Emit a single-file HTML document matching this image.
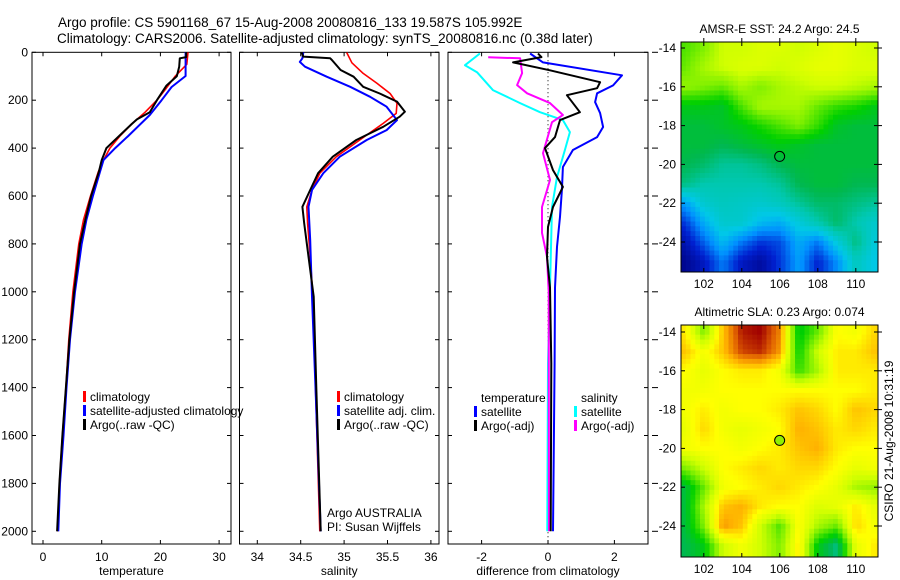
<!DOCTYPE html>
<html><head><meta charset="utf-8">
<style>
html,body{margin:0;padding:0;background:#fff;}
svg{display:block;font-family:"Liberation Sans",sans-serif;}
text{font-size:12px;fill:#000;}
</style></head>
<body>
<svg id="fig" width="900" height="580" viewBox="0 0 900 580" xmlns="http://www.w3.org/2000/svg">
<text x="58" y="27" style="font-size:13.5px">Argo profile: CS 5901168_67 15-Aug-2008 20080816_133 19.587S 105.992E</text>
<text x="57" y="43" style="font-size:13.5px">Climatology: CARS2006. Satellite-adjusted climatology: synTS_20080816.nc (0.38d later)</text>
<g id="g"></g>
</svg>
<script>
// ---- temperature panel data ----
const tClimDepth=[0,50,100,150,200,250,300,350,400,450,500,600,700,800,1000,1200,1400,1600,1800,2000];
const tClimVal=[24.7,24.5,22.5,21.0,19.4,17.4,15.1,13.1,11.4,10.3,9.4,8.1,6.9,6.1,5.1,4.4,3.9,3.3,2.8,2.5];
const tSatDepth=[0,99,145,200,262,350,400,450,500,600,700,800,1000,1200,1400,1600,1800,2000];
const tSatVal=[24.3,24.3,21.9,20.2,18.2,14.5,12.3,10.3,9.7,8.5,7.4,6.6,5.45,4.6,4.0,3.5,2.9,2.6];
const tArgoDepth=[0,20,25,60,100,140,200,250,280,300,400,450,500,600,700,800,1000,1200,1400,1600,1800,2000];
const tArgoVal=[24.4,24.4,23.3,23.2,22.8,21.0,19.4,18.2,16.0,15.1,10.8,10.0,9.5,8.2,7.2,6.3,5.3,4.5,3.9,3.3,2.8,2.4];
// ---- salinity panel data ----
const sClimDepth=[1,44,88,130,172,213,255,297,366,436,505,575,645,714,853,1020,1400,2000];
const sClimVal=[35.03,35.09,35.22,35.38,35.53,35.61,35.60,35.45,35.18,34.91,34.72,34.63,34.57,34.58,34.61,34.64,34.67,34.72];
const sSatDepth=[1,25,40,60,102,144,186,227,283,325,366,436,505,575,645,784,1020,1400,2000];
const sSatVal=[34.53,34.52,34.49,34.55,34.80,35.07,35.30,35.49,35.61,35.49,35.26,34.95,34.76,34.63,34.59,34.61,34.63,34.67,34.73];
const sArgoDepth=[1,18,25,32,74,102,144,172,206,248,269,311,366,436,505,575,645,714,853,1020,1400,2000];
const sArgoVal=[34.51,34.53,34.84,34.86,34.96,35.11,35.22,35.41,35.61,35.70,35.64,35.45,35.14,34.87,34.70,34.61,34.52,34.54,34.59,34.65,34.68,34.73];
// ---- difference panel data ----
const dTSatDepth=[5,42,96,138,171,208,254,312,354,408,479,575,687,812,983,1300,2000];
const dTSatVal=[-0.54,-0.15,2.23,1.96,1.48,1.42,1.57,1.66,1.48,0.75,0.45,0.42,0.36,0.27,0.21,0.2,0.15];
const dTArgoDepth=[5,20,42,75,125,150,179,250,283,354,400,492,562,646,729,854,983,1300,2000];
const dTArgoVal=[-0.3,-0.2,-1.05,0.06,1.57,1.48,0.57,0.96,0.36,0.21,-0.09,0.15,0.45,0.15,0,-0.03,0.06,0.1,0.08];
const dSSatDepth=[5,54,83,158,212,250,283,333,408,521,646,983,1300,2000];
const dSSatVal=[-2.05,-2.5,-2.14,-1.66,-0.84,-0.24,0.45,0.66,0.51,0.27,0.12,0.06,0.0,-0.02];
const dSArgoDepth=[21,25,87,137,171,212,262,292,421,533,646,754,854,1000,2000];
const dSArgoVal=[-1.8,-0.84,-0.78,-0.93,-0.63,0.06,0.45,0.12,-0.15,0.06,-0.18,-0.18,-0.03,0.02,0.03];
// ---- map data (rows lat -14..-25, cols lon 101..111), normalized colour index ----
const mapLats=[-14,-15,-16,-17,-18,-19,-20,-21,-22,-23,-24,-25];
const mapLons=[101,102,103,104,105,106,107,108,109,110,111];
const sstGrid=[
[0.58,0.62,0.70,0.70,0.72,0.72,0.70,0.72,0.74,0.72,0.70],
[0.60,0.66,0.70,0.72,0.72,0.70,0.72,0.74,0.74,0.72,0.72],
[0.64,0.62,0.60,0.66,0.62,0.66,0.68,0.70,0.70,0.68,0.66],
[0.50,0.50,0.48,0.58,0.66,0.66,0.66,0.60,0.56,0.54,0.50],
[0.46,0.46,0.48,0.50,0.54,0.58,0.62,0.56,0.48,0.46,0.46],
[0.46,0.46,0.44,0.46,0.48,0.50,0.48,0.46,0.46,0.46,0.46],
[0.44,0.42,0.38,0.38,0.40,0.44,0.46,0.46,0.46,0.46,0.46],
[0.40,0.36,0.36,0.36,0.36,0.38,0.44,0.46,0.46,0.44,0.44],
[0.22,0.32,0.34,0.33,0.32,0.34,0.38,0.42,0.42,0.40,0.38],
[0.12,0.24,0.32,0.32,0.26,0.24,0.30,0.36,0.42,0.36,0.32],
[0.06,0.16,0.26,0.18,0.12,0.14,0.24,0.18,0.30,0.40,0.30],
[0.02,0.08,0.18,0.08,0.04,0.12,0.22,0.10,0.20,0.34,0.28]];
const slaGrid=[
[0.80,0.62,0.84,0.98,1.00,0.90,0.50,0.60,0.78,0.76,0.82],
[0.84,0.76,0.84,0.95,0.97,0.88,0.52,0.70,0.80,0.80,0.84],
[0.78,0.74,0.78,0.80,0.80,0.76,0.56,0.66,0.80,0.80,0.80],
[0.76,0.76,0.78,0.78,0.78,0.78,0.78,0.78,0.78,0.78,0.80],
[0.76,0.80,0.76,0.78,0.78,0.80,0.84,0.82,0.78,0.84,0.82],
[0.74,0.82,0.76,0.74,0.76,0.78,0.86,0.84,0.80,0.82,0.80],
[0.76,0.78,0.78,0.76,0.78,0.80,0.84,0.86,0.80,0.78,0.78],
[0.62,0.70,0.78,0.80,0.82,0.80,0.82,0.82,0.78,0.74,0.76],
[0.46,0.60,0.76,0.78,0.80,0.82,0.80,0.78,0.74,0.66,0.64],
[0.46,0.66,0.84,0.86,0.80,0.78,0.78,0.72,0.74,0.80,0.74],
[0.46,0.62,0.88,0.84,0.70,0.58,0.78,0.66,0.60,0.82,0.76],
[0.44,0.50,0.70,0.76,0.70,0.62,0.80,0.50,0.40,0.74,0.80]];
const floatLon=105.992, floatLat=-19.587;
const depthTicks=[0,200,400,600,800,1000,1200,1400,1600,1800,2000];
const tempTicks=[0,10,20,30];
const salTicks=[34,34.5,35,35.5,36];
const diffTicks=[-2,0,2];
const latTicks=[-14,-16,-18,-20,-22,-24];
const lonTicks=[102,104,106,108,110];

const NS='http://www.w3.org/2000/svg';
const G=document.getElementById('g');
function mk(tag,attrs,parent){const e=document.createElementNS(NS,tag);for(const k in attrs)e.setAttribute(k,attrs[k]);(parent||G).appendChild(e);return e;}
function txt(x,y,s,anchor,parent,size){const t=mk('text',{x:x,y:y,'text-anchor':anchor||'start'},parent);if(size)t.style.fontSize=size+'px';t.textContent=s;return t;}

const TOP=52.3, BOT=544;
const yD=d=>TOP+0.2395*d;
const panels=[
 {name:'temperature',x0:32,x1:231,f:v=>43+5.87*v,ticks:tempTicks,label:'temperature',yl:true},
 {name:'salinity',x0:239.5,x1:439,f:v=>257.3+86.8*(v-34),ticks:salTicks,label:'salinity'},
 {name:'difference',x0:448,x1:648,f:v=>548+33.2*v,ticks:diffTicks,label:'difference from climatology',yr:true}
];
panels.forEach(p=>{
  const g=mk('g',{});
  
  
  mk('rect',{x:p.x0,y:TOP,width:p.x1-p.x0,height:BOT-TOP,fill:'#fff',stroke:'#000','stroke-width':1},g);
  p.ticks.forEach(v=>{
    const x=p.f(v);
    mk('line',{x1:x,x2:x,y1:BOT,y2:BOT-4,stroke:'#000'},g);
    mk('line',{x1:x,x2:x,y1:TOP,y2:TOP+4,stroke:'#000'},g);
    const t=txt(x,BOT+17,String(v),'middle',g);
    
    
  });
  depthTicks.forEach(d=>{
    const y=yD(d);
    mk('line',{x1:p.x0,x2:p.x0+4,y1:y,y2:y,stroke:'#000'},g);
    mk('line',{x1:p.x1,x2:p.x1-4,y1:y,y2:y,stroke:'#000'},g);
    if(p.yl){const t=txt(p.x0-4,y+4,String(d),'end',g);
      
      }
    if(p.yr){mk('line',{x1:p.x1+4,x2:p.x1+10,y1:y,y2:y,stroke:'#000'},g);}
  });
  const xl=txt((p.x0+p.x1)/2,BOT+31,p.label,'middle',g);
  
  
  p.g=g;
});
function line(p,depths,vals,color,w,name){
  const pts=depths.map((d,i)=>p.f(vals[i]).toFixed(1)+','+yD(d).toFixed(1)).join(' ');
  const e=mk('polyline',{points:pts,fill:'none',stroke:color,'stroke-width':w,'stroke-linejoin':'round'},p.g);
  
  
}
// zero dotted line
mk('line',{x1:panels[2].f(0),x2:panels[2].f(0),y1:TOP,y2:BOT,stroke:'#000','stroke-dasharray':'1,3'},panels[2].g);
line(panels[0],tClimDepth,tClimVal,'#ff0000',1.6,'temp-climatology-line');
line(panels[0],tSatDepth,tSatVal,'#0000ff',2,'temp-satellite-line');
line(panels[0],tArgoDepth,tArgoVal,'#000000',2,'temp-argo-line');
line(panels[1],sClimDepth,sClimVal,'#ff0000',1.6,'sal-climatology-line');
line(panels[1],sSatDepth,sSatVal,'#0000ff',2,'sal-satellite-line');
line(panels[1],sArgoDepth,sArgoVal,'#000000',2,'sal-argo-line');
line(panels[2],dSSatDepth,dSSatVal,'#00ffff',2,'sal-satellite-diff-line');
line(panels[2],dSArgoDepth,dSArgoVal,'#ff00ff',2,'sal-argo-diff-line');
line(panels[2],dTSatDepth,dTSatVal,'#0000ff',2,'temp-satellite-diff-line');
line(panels[2],dTArgoDepth,dTArgoVal,'#000000',2,'temp-argo-diff-line');

function legend(x,y,color,label,name){
  const g=mk('g',{});
  
  
  if(color) mk('rect',{x:x,y:y-10,width:3,height:11,fill:color},g);
  txt(x+7,y,label,'start',g);
}
legend(83,401,'#ff0000','climatology','legend-entry-climatology');
legend(83,415,'#0000ff','satellite-adjusted climatology','legend-entry-satellite');
legend(83,429,'#000000','Argo(..raw -QC)','legend-entry-argo');
legend(337,401,'#ff0000','climatology','legend-entry-climatology');
legend(337,415,'#0000ff','satellite adj. clim.','legend-entry-satellite');
legend(337,429,'#000000','Argo(..raw -QC)','legend-entry-argo');
legend(474,402,null,'temperature','legend-header-temperature');
legend(474,416,'#0000ff','satellite','legend-entry-temp-satellite');
legend(474,430,'#000000','Argo(-adj)','legend-entry-temp-argo');
legend(574,402,null,'salinity','legend-header-salinity');
legend(574,416,'#00ffff','satellite','legend-entry-sal-satellite');
legend(574,430,'#ff00ff','Argo(-adj)','legend-entry-sal-argo');
const a1=txt(327,517,'Argo AUSTRALIA','start');


const a2=txt(327,531,'PI: Susan Wijffels','start');


// clip lines above top of panels (left edge of blue black overlaps ok)

// ---- maps ----
const stops=[[0,[0,0,128]],[0.10,[0,32,208]],[0.20,[0,144,255]],[0.28,[0,200,232]],[0.36,[0,200,176]],[0.44,[0,184,80]],[0.52,[0,208,0]],[0.62,[128,240,0]],[0.70,[208,255,0]],[0.78,[255,255,0]],[0.86,[255,176,0]],[0.93,[224,96,0]],[1,[160,0,0]]];
function cmap(t){t=Math.max(0,Math.min(1,t));for(let i=1;i<stops.length;i++){if(t<=stops[i][0]){const a=stops[i-1],b=stops[i];const f=(t-a[0])/(b[0]-a[0]);return 'rgb('+a[1].map((c,k)=>Math.round(c+(b[1][k]-c)*f)).join(',')+')';}}return 'rgb(160,0,0)';}
function sample(grid,lon,lat){
  let c=(lon-mapLons[0]);c=Math.max(0,Math.min(mapLons.length-1.0001,c));
  let r=(mapLats[0]-lat);r=Math.max(0,Math.min(mapLats.length-1.0001,r));
  const c0=Math.floor(c),r0=Math.floor(r),fc=c-c0,fr=r-r0;
  const v=grid[r0][c0]*(1-fc)*(1-fr)+grid[r0][c0+1]*fc*(1-fr)+grid[r0+1][c0]*(1-fc)*fr+grid[r0+1][c0+1]*fc*fr;
  return v;
}
function drawMap(grid,top,bot,y14,title,name,dotFill){
  const g=mk('g',{});
  
  
  const L=681,R=878,px=19.0,py=19.4;
  const xL=lon=>L+(lon-100.8)*px;
  const yL=lat=>y14+(-14-lat)*py;
  const latTop=-14+(y14-top)/py, latBot=-14-(bot-y14)/py;
  const step=0.25;
  for(let lat=latTop;lat>latBot;lat-=step){
    for(let lon=100.8;lon<111.2;lon+=step){
      const x=xL(lon),y=yL(lat);
      const w=Math.min(step*px+0.6,R-x),h=Math.min(step*py+0.6,bot-y);
      const c=mk('rect',{x:x.toFixed(1),y:y.toFixed(1),width:w.toFixed(1),height:h.toFixed(1),fill:cmap(sample(grid,lon+step/2,lat-step/2))},g);
      
      
    }
  }
  mk('rect',{x:L,y:top,width:R-L,height:bot-top,fill:'none',stroke:'#000'},g);
  latTicks.forEach(v=>{const y=yL(v);
    mk('line',{x1:L,x2:L+4,y1:y,y2:y,stroke:'#000'},g);
    mk('line',{x1:R,x2:R-4,y1:y,y2:y,stroke:'#000'},g);
    mk('line',{x1:R,x2:R+4,y1:y,y2:y,stroke:'#000'},g);
    const t=txt(L-5,y+4,String(v),'end',g);
    
    });
  lonTicks.forEach(v=>{const x=xL(v);
    mk('line',{x1:x,x2:x,y1:bot,y2:bot-4,stroke:'#000'},g);
    mk('line',{x1:x,x2:x,y1:top,y2:top+4,stroke:'#000'},g);
    mk('line',{x1:x,x2:x,y1:top,y2:top-4,stroke:'#000'},g);
    const t=txt(x,bot+16,String(v),'middle',g);
    
    });
  const tt=txt((L+R)/2,top-9,title,'middle',g);
  
  
  const dot=mk('circle',{cx:xL(floatLon),cy:yL(floatLat),r:5,fill:dotFill,stroke:'#000'},g);
  
  
}
drawMap(sstGrid,42,272,48,'AMSR-E SST: 24.2 Argo: 24.5','sst-map','none');
drawMap(slaGrid,325,557,332,'Altimetric SLA: 0.23 Argo: 0.074','sla-map','#90f000');
const cs=txt(0,0,'CSIRO 21-Aug-2008 10:31:19','middle');
cs.setAttribute('transform','translate(893,441) rotate(-90)');


</script>
</body></html>
